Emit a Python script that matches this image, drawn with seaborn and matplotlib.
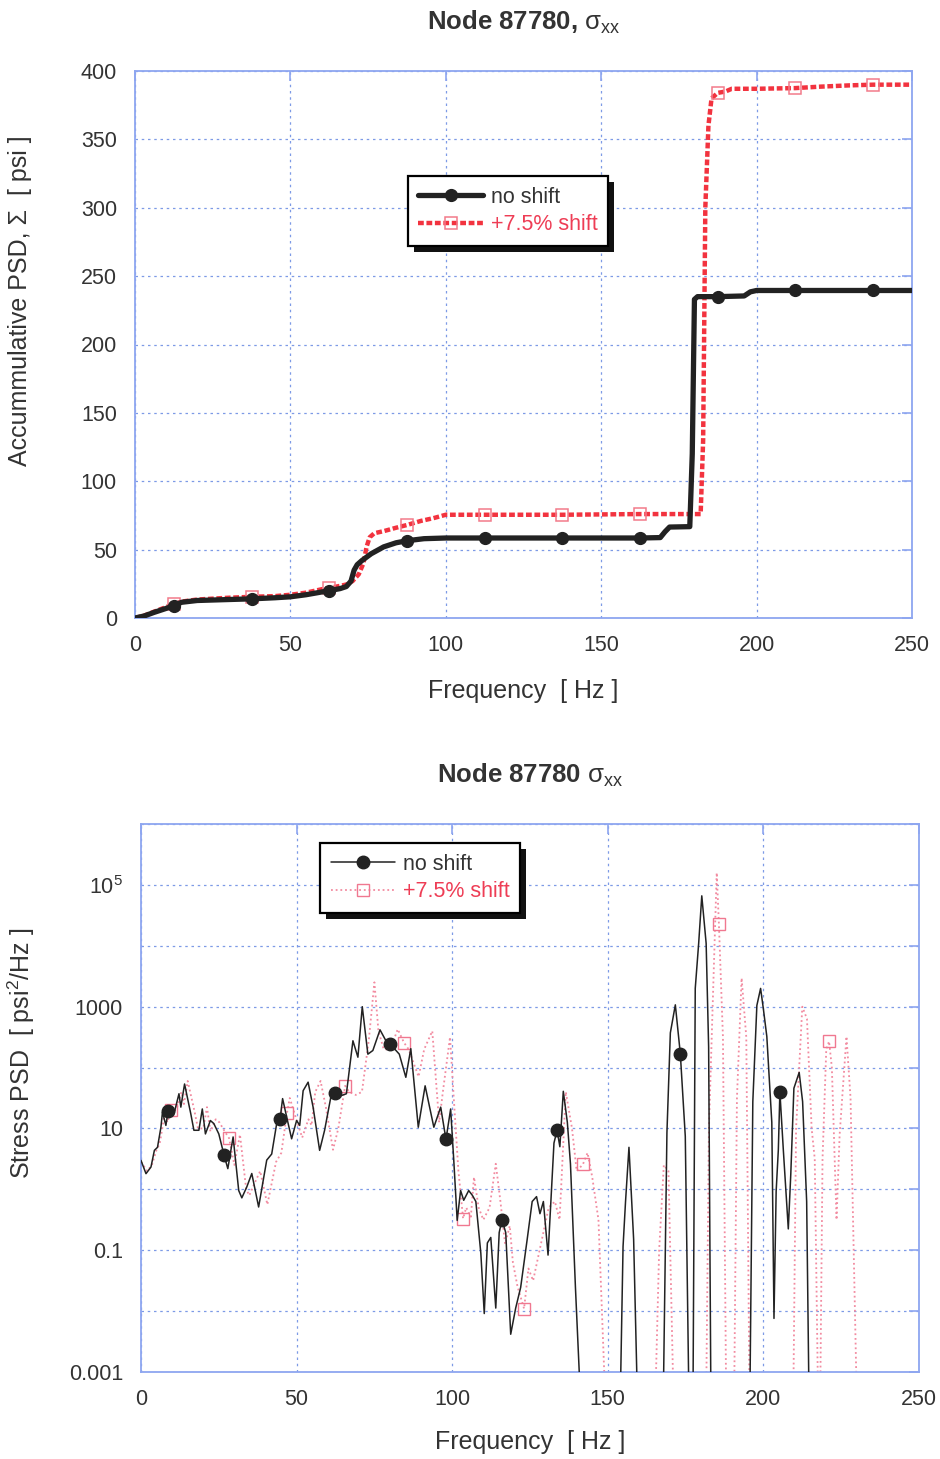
import numpy as np
import matplotlib
matplotlib.use('Agg')
import matplotlib.pyplot as plt
import seaborn as sns
from matplotlib.patches import Rectangle
from matplotlib.ticker import FixedLocator, FuncFormatter, NullLocator

# =============================================================================
# DATA
# =============================================================================
# --- top: accumulative PSD [psi] vs frequency [Hz]
acc_freq_noshift = [0, 3, 6, 10, 12.5, 15, 20, 30, 37.5, 45, 50, 55, 60, 62.5, 66, 68,
                    69.5, 70.5, 71.5, 73, 76, 80, 84, 87.5, 93, 100, 112.5, 137.5,
                    162.5, 169, 170.5, 172, 178.5, 179.3, 180, 181, 187.5, 196, 198,
                    200, 212.5, 237.5, 250]
acc_noshift = [0, 1.5, 4, 7, 9, 11.5, 12.8, 13.5, 14, 14.8, 15.5, 17, 19, 20, 21.5, 23,
               27, 35, 39, 42, 47, 52, 55, 56.5, 58, 58.5, 58.5, 58.5,
               58.5, 58.8, 63, 66.5, 66.8, 120, 233, 235, 235, 235.5, 238.5,
               239.5, 239.5, 239.5, 239.5]

acc_freq_shift = [0, 3, 6, 10, 12.5, 15, 20, 30, 37.5, 45, 50, 55, 60, 62.5, 66, 68,
                  70, 72, 73.5, 74.5, 75.5, 77, 80, 84, 87.5, 92, 96, 100, 112.5,
                  137.5, 162.5, 182, 182.8, 183.5, 184.5, 185.5, 187.5, 190, 192,
                  200, 212.5, 220, 230, 237.5, 250]
acc_shift = [0, 1.8, 4.5, 8, 10, 12, 13.5, 14.8, 15.5, 16, 17, 18.5, 21, 22, 23.5, 24.5,
             27, 32, 40, 52, 59, 62, 63.5, 66, 68, 71, 73, 75.5, 75.5,
             75.5, 76, 76, 130, 300, 360, 380, 384, 385, 387,
             387, 387.5, 388.5, 389.5, 390, 390]

acc_marker_freq = [12.5, 37.5, 62.5, 87.5, 112.5, 137.5, 162.5, 187.5, 212.5, 237.5]

# --- bottom: stress PSD [psi^2/Hz], stored as log10 of the value
psd_freq_noshift = [0, 1.6, 3.2, 4.3, 5.3, 6.4, 6.9, 8.0, 8.7, 10.6, 12.2, 12.8, 14.0,
                    16.0, 17.0, 18.6, 19.7, 20.7, 22.3, 23.4, 25.0, 26.7, 27.9, 29.6,
                    31.4, 32.4, 34.0, 35.6, 37.8, 40.4, 42.0, 43.6, 44.7, 45.5, 46.8,
                    48.4, 50.0, 51.0, 52.1, 53.7, 55.3, 57.4, 59.0, 61.2, 62.3, 64.4,
                    66.0, 68.1, 69.7, 71.1, 72.9, 74.5, 76.8, 78.7, 80.0, 83.0, 85.1,
                    86.7, 89.1, 91.3, 94.1, 96.3, 98.0, 99.5, 100.5, 101.6, 102.7,
                    103.7, 105.3, 106.5, 107.6, 109.2, 110.3, 111.3, 112.4, 114.0,
                    115.1, 116.0, 117.2, 118.8, 120.4, 122.0, 124.1, 125.7, 127.1,
                    128.2, 129.3, 130.8, 132.7, 133.7, 134.6, 135.7, 137.0, 138.0,
                    139.6, 141.0, 143.0, 153.0, 154.1, 154.9, 155.7, 156.8, 158.3,
                    159.4, 161.0, 167.0, 167.9, 169.0, 170.1, 171.7, 173.3, 174.9,
                    176.0, 176.7, 177.4, 178.1, 179.2, 180.2, 181.6, 182.4, 183.1,
                    184.0, 195.0, 195.7, 196.6, 197.9, 199.1, 200.0, 201.1, 202.7,
                    203.4, 204.1, 204.8, 205.3, 206.4, 207.5, 208.0, 208.8, 209.8,
                    211.5, 212.6, 213.9, 214.6, 216.0, 250.0]
psd_log_noshift = [0.475, 0.257, 0.366, 0.64, 0.69, 1.02, 1.27, 1.05, 1.29, 1.24, 1.57, 1.35, 1.73,
                   1.24, 0.97, 0.97, 1.32, 0.91, 1.13, 1.08, 0.91, 0.56, 0.34, 0.86,
                   -0.02, -0.14, 0.04, 0.26, -0.29, 0.48, 0.58, 1.08, 1.16, 1.49, 1.19,
                   0.83, 1.13, 1.05, 1.62, 1.76, 1.35, 0.64, 0.97, 1.57, 1.59, 1.54,
                   1.57, 2.44, 2.17, 3.0, 2.22, 2.28, 2.62, 2.44, 2.39, 2.22, 1.84,
                   2.31, 1.02, 1.70, 1.02, 1.35, 0.82, 1.32, 0.48, -0.51, -0.02,
                   -0.18, -0.02, -0.1, -0.2, -1.05, -2.04, -0.88, -0.79, -1.95,
                   -0.71, -0.50, -0.71, -2.38, -1.95, -1.61, -0.82, -0.2, -0.12,
                   -0.4, -0.2, -1.08, 0.76, 0.97, 0.70, 1.61, 1.10, 0.42,
                   -1.61, -3.2, -4, -4, -3.2, -0.94, -0.2, 0.69, -0.82,
                   -3.2, -4, -4, -3.2, 0.93, 2.57, 3.03, 2.23, 0.87,
                   -3.2, -4, -3.2, 3.30, 4.04, 4.82, 4.04, 2.34, -3.2,
                   -4, -4, -3.2, 1.44, 3.02, 3.30, 2.96, 2.51, 1.10,
                   -2.12, -0.03, 0.65, 1.60, 0.65, -0.26, -0.65, 0.25, 1.66,
                   1.92, 1.44, -0.2, -3.2, -4, -4]
psd_marker_noshift = [8.7, 26.7, 44.7, 62.3, 80.0, 98.0, 116.0, 133.7, 173.3, 205.3]

psd_freq_shift = [0, 2.0, 3.5, 5.0, 6.0, 7.0, 7.5, 8.5, 9.6, 11.3, 13.0, 13.8, 15.0, 17.2,
                  18.3, 20.0, 21.2, 22.3, 24.0, 25.2, 26.9, 28.3, 30.0, 31.8, 33.8,
                  34.8, 36.5, 38.3, 40.6, 43.4, 45.1, 46.9, 47.8, 49.6, 51.8, 53.8,
                  54.8, 56.0, 57.7, 59.4, 61.7, 63.4, 65.6, 66.9, 69.0, 71.0, 73.2,
                  75.0, 76.3, 78.0, 80.1, 82.5, 84.5, 86.0, 89.2, 91.0, 93.6, 95.8,
                  97.0, 99.3, 100.5, 102.0, 103.5, 104.5, 106.0, 107.0, 108.5, 110.0,
                  112.0, 114.0, 115.5, 117.0, 118.5, 119.5, 121.0, 123.1, 124.5,
                  126.0, 128.5, 131.0, 133.0, 134.5, 136.5, 138.5, 140.0, 142.0,
                  143.5, 145.0, 147.0, 149.0, 150.0, 165.0, 166.5, 168.0, 169.5,
                  171.0, 172.0, 181.5, 182.5, 184.0, 185.0, 185.7, 187.0, 188.0,
                  189.0, 190.5, 191.5, 193.0, 194.5, 195.5, 196.5, 209.5, 210.5,
                  212.5, 214.0, 215.5, 216.5, 217.5, 218.3, 219.0, 220.2, 221.1,
                  222.0, 223.5, 224.5, 226.7, 228.0, 229.9, 231.0, 250.0]
psd_log_shift = [0.45, 0.30, 0.40, 0.65, 0.75, 1.05, 1.25, 1.10, 1.31, 1.30, 1.60, 1.40, 1.78, 1.28,
                 1.00, 1.00, 1.35, 0.95, 1.15, 1.10, 0.95, 0.84, 0.40, 0.90, 0.00,
                 -0.10, 0.10, 0.30, -0.25, 0.45, 0.60, 1.25, 1.50, 1.20, 0.85, 1.15,
                 1.05, 1.60, 1.78, 1.35, 0.65, 1.00, 1.70, 1.60, 1.55, 1.60, 2.45,
                 3.40, 2.60, 2.30, 2.30, 2.63, 2.41, 2.30, 1.85, 2.30, 2.60, 1.10,
                 1.60, 2.50, 1.50, 0.30, -0.48, -0.30, -0.45, 0.20, -0.30, -0.50,
                 -0.30, 0.42, -0.20, -0.90, -0.60, -1.20, -1.60, -1.96, -1.30,
                 -1.50, -0.90, -0.30, -0.20, -0.50, 1.60, 1.00, 0.30, 0.41,
                 0.60, 0.20, -0.50, -3.2, -4, -4, -1.0, 0.40, 0.30,
                 -3.2, -4, -4, 1.0, 3.5, 5.2, 4.36, 2.5, -3.2,
                 -4, -4, 1.5, 3.47, 2.5, -3.2, -4, -4, 1.0,
                 3.0, 2.8, 1.0, 0.5, -3.2, -3.2, 0.5, 2.30, 2.43,
                 2.00, -0.50, 0.90, 2.51, 1.50, -3.2, -4, -4]
psd_marker_shift = [9.6, 28.3, 46.9, 65.6, 84.5, 103.5, 123.1, 142.0, 185.7, 221.1]

x_ticks = [0, 50, 100, 150, 200, 250]
acc_ticks = [0, 50, 100, 150, 200, 250, 300, 350, 400]
psd_decades = [-3, -2, -1, 0, 1, 2, 3, 4, 5, 6]
psd_ticklabels = {-3: '0.001', -1: '0.1', 1: '10', 3: '1000', 5: r'$10^{5}$'}
labels = ['no shift', '+7.5% shift']

# =============================================================================
# STYLE
# =============================================================================
sns.set_theme(style='white')
plt.rcParams['font.family'] = ['Liberation Sans', 'DejaVu Sans']
plt.rcParams['mathtext.fontset'] = 'custom'
plt.rcParams['mathtext.rm'] = 'Liberation Sans'
plt.rcParams['mathtext.it'] = 'Liberation Sans:italic'
plt.rcParams['mathtext.bf'] = 'Liberation Sans:bold'

TXT = '#333333'
SPINE = '#8ea6f0'
GRID = '#7d9ae6'
BLACK = '#222222'
RED = '#f2333f'
RED_TXT = '#ee3d55'
PINK = '#f28ba0'

fig = plt.figure(figsize=(9.4, 14.59), dpi=100)
ax1 = fig.add_axes([135 / 940, 1 - 618 / 1459, 777 / 940, 547 / 1459])
ax2 = fig.add_axes([141 / 940, 1 - 1372 / 1459, 778 / 940, 548 / 1459])


def style_axes(ax):
    for s in ax.spines.values():
        s.set_color(SPINE)
        s.set_linewidth(1.3)
    ax.tick_params(direction='in', length=7, width=1.2, color=SPINE,
                   top=True, right=True, labelsize=15.5, labelcolor=TXT)
    ax.tick_params(axis='y', pad=13)
    ax.tick_params(axis='x', pad=12)
    ax.grid(True, color=GRID, linestyle=(0, (2, 3)), linewidth=0.9)


def add_shadow(ax, leg, off=6):
    fig.canvas.draw()
    bb = leg.get_window_extent()
    inv = fig.transFigure.inverted()
    (x0, y0), (x1, y1) = inv.transform([(bb.x0 + off, bb.y0 - off), (bb.x1 + off, bb.y1 - off)])
    rect = Rectangle((x0, y0), x1 - x0, y1 - y0, transform=fig.transFigure,
                     facecolor='#111111', edgecolor='none', zorder=4.9, clip_on=False)
    ax.add_artist(rect)


# =============================================================================
# 1. ACCUMULATIVE PSD
# =============================================================================
idx_b = [acc_freq_noshift.index(m) for m in acc_marker_freq]
idx_r = [acc_freq_shift.index(m) for m in acc_marker_freq]

sns.lineplot(x=acc_freq_noshift, y=acc_noshift, ax=ax1, sort=False, estimator=None,
             color=BLACK, lw=3.8, marker='o', markevery=idx_b, ms=8.5,
             mfc=BLACK, mec=BLACK, mew=1, label=labels[0], zorder=3)
sns.lineplot(x=acc_freq_shift, y=acc_shift, ax=ax1, sort=False, estimator=None,
             color=RED, lw=3.2, linestyle=(0, (1.3, 0.6)), marker='s', markevery=idx_r,
             ms=9, mfc='none', mec='#f27a8a', mew=1.1, label=labels[1], zorder=2)

style_axes(ax1)
ax1.set_xlim(0, 250)
ax1.set_ylim(0, 400)
ax1.set_xticks(x_ticks)
ax1.set_yticks(acc_ticks)
ax1.set_title(r'Node 87780, $\mathrm{\sigma}_{\mathrm{xx}}$', fontsize=18.5,
              fontweight='bold', color=TXT, pad=30)
ax1.set_xlabel('Frequency  [ Hz ]', fontsize=18, color=TXT)
ax1.set_ylabel('Accummulative PSD, \u03a3  [ psi ]', fontsize=18, color=TXT)
ax1.xaxis.set_label_coords(0.5, -0.112)
ax1.yaxis.set_label_coords(-0.133, 0.58)

leg1 = ax1.legend(loc='upper left', bbox_to_anchor=(0.351, 0.808), borderaxespad=0,
                  frameon=True, fancybox=False, edgecolor='black', framealpha=1,
                  fontsize=15.5, handlelength=3.0, handletextpad=0.35, numpoints=1,
                  borderpad=0.5, labelspacing=0.3)
leg1.get_frame().set_linewidth(1.6)
leg1.get_texts()[0].set_color(TXT)
leg1.get_texts()[1].set_color(RED_TXT)

# =============================================================================
# 2. STRESS PSD (log scale)
# =============================================================================
ax2.set_yscale('log')
psd_noshift = np.power(10.0, psd_log_noshift)
psd_shift = np.power(10.0, psd_log_shift)
idx_b2 = [psd_freq_noshift.index(m) for m in psd_marker_noshift]
idx_r2 = [psd_freq_shift.index(m) for m in psd_marker_shift]

sns.lineplot(x=psd_freq_shift, y=psd_shift, ax=ax2, sort=False, estimator=None,
             color=PINK, lw=1.3, linestyle=(0, (1, 1.6)), marker='s', markevery=idx_r2,
             ms=9, mfc='none', mec='#f07890', mew=1.0, label=labels[1], zorder=2)
sns.lineplot(x=psd_freq_noshift, y=psd_noshift, ax=ax2, sort=False, estimator=None,
             color=BLACK, lw=1.1, marker='o', markevery=idx_b2, ms=9,
             mfc=BLACK, mec=BLACK, mew=1, label=labels[0], zorder=3)

style_axes(ax2)
ax2.set_xlim(0, 250)
ax2.set_ylim(1e-3, 1e6)
ax2.set_xticks(x_ticks)
ax2.yaxis.set_major_locator(FixedLocator([10.0 ** d for d in psd_decades]))
ax2.yaxis.set_minor_locator(NullLocator())
ax2.yaxis.set_major_formatter(FuncFormatter(
    lambda v, p: psd_ticklabels.get(int(round(np.log10(v))), '')))
ax2.set_title(r'Node 87780 $\mathrm{\sigma}_{\mathrm{xx}}$', fontsize=18.5,
              fontweight='bold', color=TXT, pad=30)
ax2.set_xlabel('Frequency  [ Hz ]', fontsize=18, color=TXT)
ax2.set_ylabel(r'Stress PSD  [ psi$^{2}$/Hz ]', fontsize=18, color=TXT)
ax2.xaxis.set_label_coords(0.5, -0.106)
ax2.yaxis.set_label_coords(-0.134, 0.582)

h, l = ax2.get_legend_handles_labels()
order = [l.index(labels[0]), l.index(labels[1])]
leg2 = ax2.legend([h[i] for i in order], [l[i] for i in order],
                  loc='upper left', bbox_to_anchor=(0.23, 0.965), borderaxespad=0,
                  frameon=True, fancybox=False, edgecolor='black', framealpha=1,
                  fontsize=15.5, handlelength=3.0, handletextpad=0.35, numpoints=1,
                  borderpad=0.5, labelspacing=0.3)
leg2.get_frame().set_linewidth(1.6)
leg2.get_texts()[0].set_color(TXT)
leg2.get_texts()[1].set_color(RED_TXT)

add_shadow(ax1, leg1)
add_shadow(ax2, leg2)

fig.savefig('out.png', dpi=100)
plt.close(fig)
print('saved out.png')
